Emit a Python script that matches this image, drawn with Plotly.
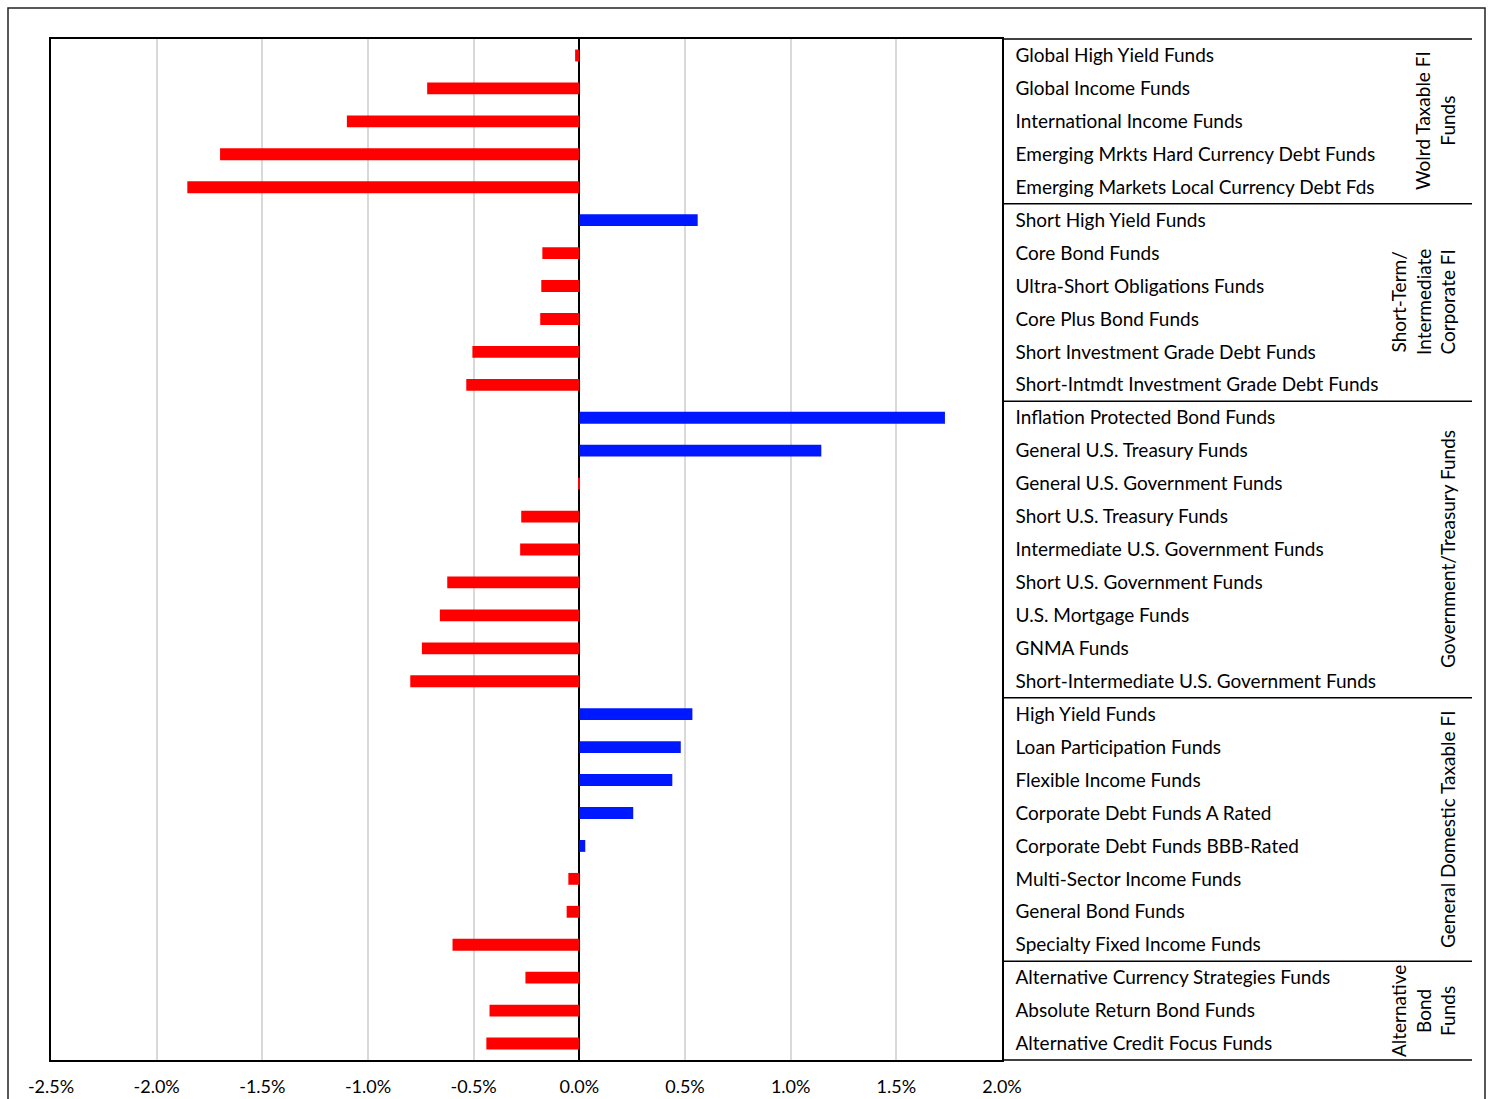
import plotly.graph_objects as go

categories = [
    "Global High Yield Funds",
    "Global Income Funds",
    "International Income Funds",
    "Emerging Mrkts Hard Currency Debt Funds",
    "Emerging Markets Local Currency Debt Fds",
    "Short High Yield Funds",
    "Core Bond Funds",
    "Ultra-Short Obligations Funds",
    "Core Plus Bond Funds",
    "Short Investment Grade Debt Funds",
    "Short-Intmdt Investment Grade Debt Funds",
    "Inflation Protected Bond Funds",
    "General U.S. Treasury Funds",
    "General U.S. Government Funds",
    "Short U.S. Treasury Funds",
    "Intermediate U.S. Government Funds",
    "Short U.S. Government Funds",
    "U.S. Mortgage Funds",
    "GNMA Funds",
    "Short-Intermediate U.S. Government Funds",
    "High Yield Funds",
    "Loan Participation Funds",
    "Flexible Income Funds",
    "Corporate Debt Funds A Rated",
    "Corporate Debt Funds BBB-Rated",
    "Multi-Sector Income Funds",
    "General Bond Funds",
    "Specialty Fixed Income Funds",
    "Alternative Currency Strategies Funds",
    "Absolute Return Bond Funds",
    "Alternative Credit Focus Funds",
]

values = [
    -0.0002, -0.0072, -0.0110, -0.0170, -0.01855,
    0.0056, -0.00175, -0.0018, -0.00185, -0.00506, -0.00535,
    0.0173, 0.01145, -0.00004, -0.00275, -0.0028, -0.00625, -0.0066, -0.00745, -0.0080,
    0.00535, 0.0048, 0.0044, 0.00255, 0.00028, -0.00052, -0.0006, -0.0060,
    -0.00255, -0.00425, -0.0044,
]

group_labels = [
    "Wolrd Taxable FI<br>Funds",
    "Short-Term/<br>Intermediate<br>Corporate FI",
    "Government/Treasury Funds",
    "General Domestic Taxable FI",
    "Alternative<br>Bond<br>Funds",
]
group_sizes = [5, 6, 9, 8, 3]

x_ticks = [-0.025, -0.02, -0.015, -0.01, -0.005, 0.0, 0.005, 0.01, 0.015, 0.02]
x_tick_text = [f"{v * 100:.1f}%" for v in x_ticks]

RED = "#FF0000"
BLUE = "#0018FF"
colors = [BLUE if v > 0 else RED for v in values]

W, H = 1488, 1099
L, R, T, B = 51, 16, 39, 39
PW, PH = W - L - R, H - T - B

def px_x(p):
    return (p - L) / PW

def px_y(p):
    return (H - B - p) / PH

fig = go.Figure()
fig.add_trace(go.Bar(
    x=values, y=categories, orientation="h",
    marker=dict(color=colors, line=dict(width=0)),
    width=0.36, showlegend=False,
))

x_dom_end = px_x(1002)

fig.update_layout(
    width=W, height=H,
    margin=dict(l=L, r=R, t=T, b=B, autoexpand=False),
    plot_bgcolor="white", paper_bgcolor="white",
    font=dict(family="Lato, Carlito, sans-serif", color="black"),
    xaxis=dict(
        domain=[0, x_dom_end], range=[-0.025, 0.02],
        tickvals=x_ticks, ticktext=x_tick_text,
        showgrid=True, gridcolor="#d9d9d9", gridwidth=1.5,
        zeroline=True, zerolinecolor="black", zerolinewidth=1.5,
        showline=True, mirror=True, linecolor="black", linewidth=1.5,
        ticks="", ticklabelstandoff=10,
        tickfont=dict(family="Lato, Carlito, sans-serif", size=18, color="black"),
        fixedrange=True,
    ),
    yaxis=dict(
        type="category", categoryorder="array", categoryarray=categories,
        autorange="reversed", side="right",
        showgrid=False, zeroline=False,
        showline=True, mirror=True, linecolor="black", linewidth=1.5,
        ticks="", ticklabelstandoff=8,
        tickfont=dict(family="Lato, Carlito, sans-serif", size=19, color="black"),
    ),
    bargap=0.6,
)

shapes = []
# outer frame
shapes.append(dict(type="rect", xref="paper", yref="paper",
                   x0=px_x(8), x1=px_x(1485), y0=px_y(1110), y1=px_y(8),
                   line=dict(color="#222222", width=1.5), fillcolor="rgba(0,0,0,0)", layer="below"))
# right panel horizontal separators
n = len(categories)
boundaries = [0]
for s in group_sizes:
    boundaries.append(boundaries[-1] + s)
for bidx in boundaries:
    yb = 1 - bidx / n
    shapes.append(dict(type="line", xref="paper", yref="paper",
                       x0=x_dom_end, x1=1.0, y0=yb, y1=yb,
                       line=dict(color="black", width=1.5)))
fig.update_layout(shapes=shapes)

group_x = {1: 1447, 2: 1435, 3: 1423}
group_y = [121, 302, 549, 829, 1011]
annotations = []
for lbl, gy in zip(group_labels, group_y):
    nl = lbl.count("<br>") + 1
    annotations.append(dict(
        text=lbl, xref="paper", yref="paper",
        x=px_x(group_x[nl]), y=px_y(gy), xanchor="center", yanchor="middle",
        textangle=-90, showarrow=False, align="center",
        font=dict(family="Lato, Carlito, sans-serif", size=19, color="black"),
    ))
fig.update_layout(annotations=annotations)

fig.write_html("out.html")
